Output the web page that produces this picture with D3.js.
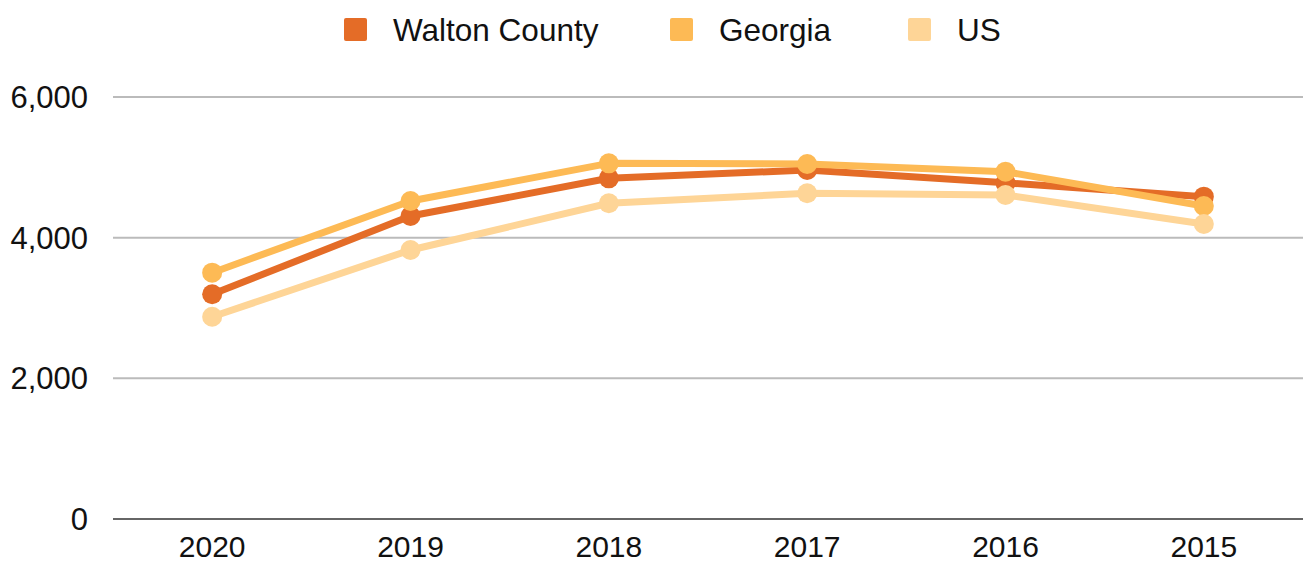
<!DOCTYPE html>
<html>
<head>
<meta charset="utf-8">
<script src="https://cdn.jsdelivr.net/npm/d3@7"></script>
<style>
  body { margin: 0; background: #fff; }
  text { font-family: "Liberation Sans", Arial, sans-serif; }
</style>
</head>
<body>
<svg id="chart" width="1305" height="563"></svg>
<script>
var years = ["2020", "2019", "2018", "2017", "2016", "2015"];
var seriesNames = ["Walton County", "Georgia", "US"];
var seriesColors = ["#e46c27", "#fdba55", "#fed597"];
var walton = [3195, 4308, 4844, 4962, 4780, 4583];
var georgia = [3502, 4522, 5057, 5048, 4938, 4450];
var us = [2876, 3825, 4489, 4631, 4607, 4195];
var yTicks = [0, 2000, 4000, 6000];

var svg = d3.select("#chart"),
    width = +svg.attr("width"),
    height = +svg.attr("height");

var margin = {top: 97, right: 2, bottom: 44, left: 113};

var x = d3.scaleBand()
    .domain(years)
    .range([margin.left, width - margin.right]);

var y = d3.scaleLinear()
    .domain([0, 6000])
    .range([height - margin.bottom, margin.top]);

// gridlines
svg.append("g")
    .selectAll("line")
    .data(yTicks)
    .enter().append("line")
    .attr("x1", margin.left)
    .attr("x2", width - margin.right)
    .attr("y1", d => y(d))
    .attr("y2", d => y(d))
    .style("stroke", d => d == 0 ? "#333" : "#bbb")
    .style("stroke-width", d => d == 0 ? 1.3 : 2);

// y labels
svg.append("g")
    .selectAll("text")
    .data(yTicks)
    .enter().append("text")
    .attr("x", 88)
    .attr("y", d => y(d))
    .attr("dy", "0.35em")
    .attr("text-anchor", "end")
    .style("font-size", "31px")
    .style("fill", "#111")
    .text(d => d3.format(",")(d));

// x labels
svg.append("g")
    .selectAll("text")
    .data(years)
    .enter().append("text")
    .attr("x", d => x(d) + x.bandwidth() / 2)
    .attr("y", 557)
    .attr("text-anchor", "middle")
    .style("font-size", "30px")
    .style("fill", "#111")
    .text(d => d);

var allSeries = [walton, georgia, us];

var line = d3.line()
    .x((d, i) => x(years[i]) + x.bandwidth() / 2)
    .y(d => y(d));

allSeries.forEach(function(vals, k) {
    var g = svg.append("g");
    g.append("path")
        .attr("d", line(vals))
        .style("fill", "none")
        .style("stroke", seriesColors[k])
        .style("stroke-width", 7)
        .style("stroke-linejoin", "round");
    g.selectAll("circle")
        .data(vals)
        .enter().append("circle")
        .attr("cx", (d, i) => x(years[i]) + x.bandwidth() / 2)
        .attr("cy", d => y(d))
        .attr("r", 10)
        .style("fill", seriesColors[k]);
});

// legend
var legendX = [344, 670, 908];
var legend = svg.append("g")
    .selectAll("g")
    .data(seriesNames)
    .enter().append("g")
    .attr("transform", (d, i) => "translate(" + legendX[i] + ",18)");

legend.append("rect")
    .attr("width", 23)
    .attr("height", 23)
    .attr("rx", 2)
    .style("fill", (d, i) => seriesColors[i]);

legend.append("text")
    .attr("x", 49)
    .attr("y", 11.5)
    .attr("dy", "0.35em")
    .style("font-size", "31.5px")
    .style("fill", "#111")
    .text(d => d);
</script>
</body>
</html>
